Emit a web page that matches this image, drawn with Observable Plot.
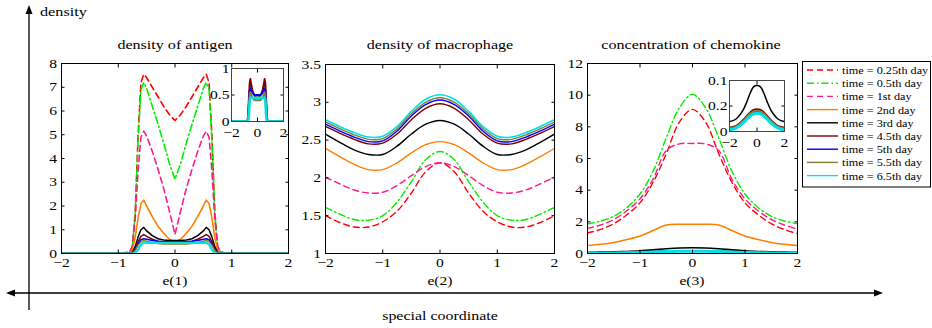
<!DOCTYPE html>
<html><head><meta charset="utf-8">
<script src="https://cdn.jsdelivr.net/npm/d3@7"></script>
<script src="https://cdn.jsdelivr.net/npm/@observablehq/plot@0.6"></script>
<style>
html,body{margin:0;padding:0;background:#fff;}
#chart{position:relative;width:932px;height:328px;overflow:hidden;}
#chart svg{position:absolute;left:0;top:0;}
</style></head><body><div id="chart"></div>
<script>
// ---------- data ----------
const seriesLabels = ["time = 0.25th day","time = 0.5th day","time = 1st day","time = 2nd day","time = 3rd day","time = 4.5th day","time = 5th day","time = 5.5th day","time = 6.5th day"];
const panelTitles = ["density of antigen","density of macrophage","concentration of chemokine"];
const axisLabels = ["e(1)","e(2)","e(3)"];
const xTicks = [-2,-1,0,1,2];
const insetXTicks = [-2,0,2];
const antigenTicks = [0,1,2,3,4,5,6,7,8];
const macroTicks = [1,1.5,2,2.5,3,3.5];
const chemoTicks = [0,2,4,6,8,10,12];
const antigenInsetTicks = [0,0.5,1];
const chemoInsetTicks = [0,0.2,0.4];
const chemoInsetTickLabels = ["0","0.2","0.1"];

const antigenX = [-2,-1,-0.8,-0.75,-0.7,-0.65,-0.6,-0.55,-0.5,-0.4,-0.3,-0.2,-0.1,0,0.1,0.2,0.3,0.4,0.5,0.55,0.6,0.65,0.7,0.75,0.8,1,2];
const antigen = [
  [0,0,0.05,0.3,1.8,5.0,7.2,7.55,7.4,7.0,6.6,6.2,5.85,5.6,5.85,6.2,6.6,7.0,7.4,7.55,7.2,5.0,1.8,0.3,0.05,0,0],
  [0,0,0.05,0.3,1.7,4.8,6.9,7.2,6.95,6.2,5.45,4.65,3.8,3.13,3.8,4.65,5.45,6.2,6.95,7.2,6.9,4.8,1.7,0.3,0.05,0,0],
  [0,0,0.05,0.3,1.5,3.5,4.9,5.15,4.95,4.3,3.55,2.75,1.8,0.8,1.8,2.75,3.55,4.3,4.95,5.15,4.9,3.5,1.5,0.3,0.05,0,0],
  [0,0,0.02,0.15,0.7,1.5,2.1,2.25,2.0,1.55,1.15,0.85,0.6,0.5,0.6,0.85,1.15,1.55,2.0,2.25,2.1,1.5,0.7,0.15,0.02,0,0],
  [0,0,0,0.05,0.3,0.7,1.0,1.1,0.95,0.75,0.62,0.57,0.55,0.55,0.55,0.57,0.62,0.75,0.95,1.1,1.0,0.7,0.3,0.05,0,0,0],
  [0,0,0,0.03,0.2,0.5,0.72,0.8,0.72,0.6,0.52,0.48,0.46,0.45,0.46,0.48,0.52,0.6,0.72,0.8,0.72,0.5,0.2,0.03,0,0,0],
  [0,0,0,0.02,0.15,0.4,0.58,0.62,0.6,0.55,0.52,0.5,0.5,0.5,0.5,0.5,0.52,0.55,0.6,0.62,0.58,0.4,0.15,0.02,0,0,0],
  [0,0,0,0.02,0.12,0.35,0.5,0.55,0.52,0.45,0.42,0.4,0.4,0.4,0.4,0.4,0.42,0.45,0.52,0.55,0.5,0.35,0.12,0.02,0,0,0],
  [0,0,0,0,0.02,0.15,0.38,0.45,0.45,0.45,0.45,0.45,0.45,0.45,0.45,0.45,0.45,0.45,0.45,0.45,0.38,0.15,0.02,0,0,0,0]
];

const gridX = [-2,-1.75,-1.5,-1.25,-1,-0.75,-0.5,-0.25,0,0.25,0.5,0.75,1,1.25,1.5,1.75,2];
const macrophage = [
  [1.50,1.41,1.35,1.35,1.42,1.56,1.80,2.08,2.20,2.08,1.80,1.56,1.42,1.35,1.35,1.41,1.50],
  [1.61,1.52,1.45,1.44,1.50,1.68,1.95,2.24,2.35,2.24,1.95,1.68,1.50,1.44,1.45,1.52,1.61],
  [2.01,1.92,1.84,1.80,1.81,1.90,2.03,2.15,2.20,2.15,2.03,1.90,1.81,1.80,1.84,1.92,2.01],
  [2.39,2.28,2.18,2.11,2.11,2.20,2.33,2.44,2.48,2.44,2.33,2.20,2.11,2.11,2.18,2.28,2.39],
  [2.58,2.47,2.37,2.31,2.31,2.42,2.58,2.71,2.76,2.71,2.58,2.42,2.31,2.31,2.37,2.47,2.58],
  [2.68,2.59,2.51,2.45,2.46,2.58,2.77,2.92,2.98,2.92,2.77,2.58,2.46,2.45,2.51,2.59,2.68],
  [2.71,2.62,2.54,2.48,2.49,2.62,2.82,2.97,3.03,2.97,2.82,2.62,2.49,2.48,2.54,2.62,2.71],
  [2.74,2.65,2.57,2.51,2.52,2.65,2.85,3.00,3.06,3.00,2.85,2.65,2.52,2.51,2.57,2.65,2.74],
  [2.77,2.68,2.60,2.54,2.55,2.68,2.88,3.04,3.10,3.04,2.88,2.68,2.55,2.54,2.60,2.68,2.77]
];

const chemokine = [
  [1.30,1.52,1.88,2.45,3.20,4.50,6.30,8.30,9.10,8.30,6.30,4.50,3.20,2.45,1.88,1.52,1.25],
  [1.86,2.05,2.35,2.90,3.76,5.20,7.30,9.20,10.05,9.20,7.30,5.20,3.76,2.90,2.35,2.05,1.88],
  [1.59,1.80,2.15,2.70,3.45,4.70,6.50,6.92,6.95,6.92,6.50,4.70,3.45,2.70,2.15,1.80,1.54],
  [0.50,0.58,0.70,0.88,1.10,1.45,1.80,1.85,1.85,1.85,1.80,1.45,1.10,0.88,0.70,0.58,0.50],
  [0.078,0.085,0.10,0.13,0.17,0.23,0.30,0.35,0.36,0.35,0.30,0.23,0.17,0.13,0.10,0.085,0.078],
  [0.030,0.035,0.045,0.065,0.09,0.12,0.15,0.17,0.175,0.17,0.15,0.12,0.09,0.065,0.045,0.035,0.030],
  [0.022,0.027,0.037,0.055,0.08,0.108,0.135,0.152,0.157,0.152,0.135,0.108,0.08,0.055,0.037,0.027,0.022],
  [0.025,0.030,0.040,0.058,0.083,0.112,0.14,0.157,0.162,0.157,0.14,0.112,0.083,0.058,0.040,0.030,0.025],
  [0.013,0.018,0.028,0.045,0.068,0.095,0.12,0.138,0.144,0.138,0.12,0.095,0.068,0.045,0.028,0.018,0.013]
];
const antigenInsetSeries = [5,6,7,8];
const chemoInsetSeries = [4,5,6,7,8];

// ---------- styles ----------
const FONT = '"Liberation Serif","Times New Roman",serif';
const STRETCH = 1.2;
const colors = ["#ff0000","#00ee00","#ff1a8c","#ff7f00","#000000","#800000","#0000ff","#808030","#00e0e6"];
const dashes = ["6,4","7,3,1.5,3","6,4",null,null,null,null,null,null];
const W = 932, H = 328;
const fmt = d => (d < 0 ? "\u2212" : "") + Math.abs(d);

function rows(xs, ys) { return xs.map((x, i) => ({x, y: ys[i]})); }

// widen glyphs horizontally (the reference text is drawn wide)
function stretchTexts(svgNode) {
  svgNode.querySelectorAll("text").forEach(el => {
    const xa = el.getAttribute("x");
    if (xa != null && xa !== "" && !isNaN(+xa)) el.setAttribute("x", +xa / STRETCH);
    const old = el.getAttribute("transform") || "";
    el.setAttribute("transform", (old + ` scale(${STRETCH},1)`).trim());
  });
}

function panel({xs, data, series, yDomain, yTicks, yFormat, box, curve, widths, inset}) {
  const [l, t, r, b] = box;
  const marks = [];
  if (inset) marks.push(Plot.frame({fill: "white", stroke: null}));
  series.forEach(s => {
    marks.push(Plot.line(rows(xs, data[s]), {x: "x", y: "y", stroke: colors[s], strokeWidth: widths[s],
      strokeDasharray: dashes[s] || undefined, curve, clip: true}));
  });
  const tk = {tickSize: -3.5, label: null};
  const xt = inset ? insetXTicks : xTicks;
  marks.push(
    Plot.axisX({...tk, tickPadding: inset ? 9.5 : 8, anchor: "bottom", ticks: xt, tickFormat: fmt}),
    Plot.axisX({...tk, tickPadding: 6, anchor: "top", ticks: xt, tickFormat: () => ""}),
    Plot.axisY({...tk, tickPadding: inset ? 5.5 : 8, anchor: "left", ticks: yTicks, tickFormat: yFormat || fmt}),
    Plot.axisY({...tk, tickPadding: 6, anchor: "right", ticks: yTicks, tickFormat: () => ""}),
    Plot.frame({stroke: inset ? "#444" : "black", strokeWidth: 1})
  );
  const svg = Plot.plot({
    width: W, height: H,
    marginLeft: l, marginTop: t, marginRight: W - r, marginBottom: H - b,
    x: {domain: [-2, 2]},
    y: {domain: yDomain},
    style: {fontFamily: FONT, fontSize: "13px", background: "transparent", color: "black", overflow: "visible"},
    marks
  });
  stretchTexts(svg);
  document.getElementById("chart").appendChild(svg);
}

const all = [0,1,2,3,4,5,6,7,8];
const mainW = [1.6,1.6,1.6,1.6,1.5,1.5,1.5,1.5,2.2];
const flatW = [1.4,1.4,1.4,1.4,1.4,1.4,1.4,1.4,1.6];

panel({xs: antigenX, data: antigen, series: all, yDomain: [0, 8], yTicks: antigenTicks, box: [61, 63, 288, 253], curve: "linear", widths: mainW});
panel({xs: gridX, data: macrophage, series: all, yDomain: [1, 3.5], yTicks: macroTicks, box: [325, 64, 554, 253], curve: "catmull-rom", widths: flatW});
panel({xs: gridX, data: chemokine, series: all, yDomain: [0, 12], yTicks: chemoTicks, box: [587, 63, 797, 253], curve: "catmull-rom", widths: [1.4,1.4,1.4,1.5,1.6,1.6,1.6,1.6,3]});
panel({xs: antigenX, data: antigen, series: antigenInsetSeries, yDomain: [0, 1], yTicks: antigenInsetTicks, box: [231, 68, 283, 121], curve: "linear", widths: [1,1,1,1,1,2,2,2,2.5], inset: true});
panel({xs: gridX, data: chemokine, series: chemoInsetSeries, yDomain: [0, 0.4], yTicks: chemoInsetTicks, yFormat: (d, i) => chemoInsetTickLabels[i], box: [729, 80, 784, 131], curve: "catmull-rom", widths: [1,1,1,1,1.5,2,2,2,3], inset: true});

// ---------- overlay: big axes, titles, legend ----------
const svg = d3.select("#chart").append("svg").attr("width", W).attr("height", H)
  .style("font-family", FONT);
function txt(parent, x, y, size, s, anchor, stretch) {
  return parent.append("text").attr("transform", `translate(${x},${y}) scale(${stretch || STRETCH},1)`)
    .attr("font-size", size).attr("text-anchor", anchor || "start").text(s);
}
svg.append("line").attr("x1", 29).attr("x2", 29).attr("y1", 12).attr("y2", 310).attr("stroke", "black").attr("stroke-width", 1.3);
svg.append("path").attr("d", "M29,5L25.5,14L32.5,14Z").attr("fill", "black");
svg.append("line").attr("x1", 12).attr("x2", 876).attr("y1", 293).attr("y2", 293).attr("stroke", "black").attr("stroke-width", 1.3);
svg.append("path").attr("d", "M6,293L15,289.5L15,296.5Z").attr("fill", "black");
svg.append("path").attr("d", "M883,293L874,289.5L874,296.5Z").attr("fill", "black");
txt(svg, 40, 16, 13.5, "density");
txt(svg, 440, 320, 13.3, "special coordinate", "middle");

const titleX = [175, 440, 691];
const labelX = [175, 440, 692];
panelTitles.forEach((t, i) => {
  txt(svg, titleX[i], 49, 13.4, t, "middle");
  txt(svg, labelX[i], 284.5, 13, axisLabels[i], "middle");
});

const lg = svg.append("g");
lg.append("rect").attr("x", 802.5).attr("y", 61.5).attr("width", 128).attr("height", 125.5).attr("fill", "white").attr("stroke", "black");
seriesLabels.forEach((lab, i) => {
  const y = 70 + i * 13.2;
  lg.append("line").attr("x1", 807).attr("x2", 838).attr("y1", y).attr("y2", y)
    .attr("stroke", colors[i]).attr("stroke-width", 1.4).attr("stroke-dasharray", dashes[i] || null);
  txt(lg, 842, y + 4, 10.8, lab, "start", 1.13);
});
</script>
</body></html>
